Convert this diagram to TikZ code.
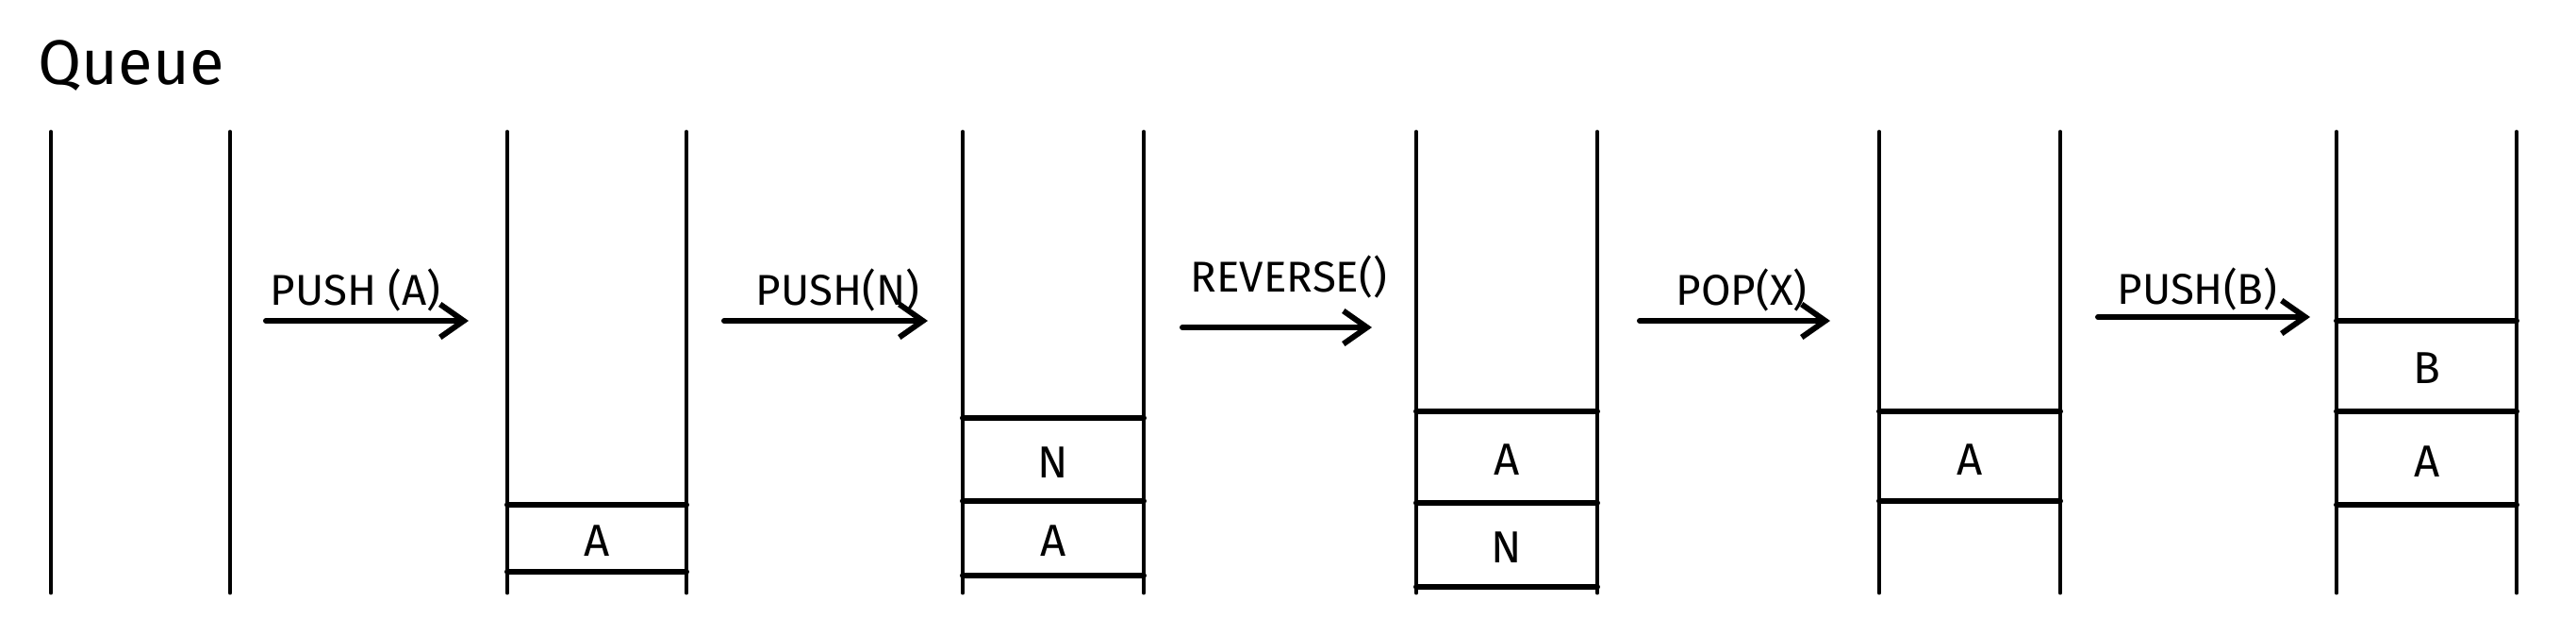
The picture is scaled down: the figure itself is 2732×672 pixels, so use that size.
\documentclass[tikz,border=0pt]{standalone}
\usepackage{fontspec}
\setmainfont{Fira Sans}
\usetikzlibrary{arrows.meta,positioning}

\tikzset{
  wall/.style={line width=1.4pt, line cap=round},
  slot/.style={line width=1.7pt, line cap=round},
  oparrow/.style={->, line width=1.7pt, line cap=round},
  oplabel/.style={font=\fontsize{13}{15}\selectfont, inner sep=1pt},
  cell/.style={font=\fontsize{13.5}{16}\selectfont}
}

\begin{document}
\begin{tikzpicture}[x=0.01cm, y=-0.01cm,
 >={Straight Barb[length=2.5mm,width=3.5mm,line width=1.7pt]}]
\useasboundingbox (0,0) rectangle (2732,672);

\node[anchor=west, font=\fontsize{19}{22}\selectfont, inner sep=0pt] (title) at (40,70) {Queue};

% stack walls
\foreach \l/\r in {54/244, 538/728, 1021/1213, 1502/1694, 1993/2185, 2478/2669} {
  \draw[wall] (\l,140) -- (\l,628);
  \draw[wall] (\r,140) -- (\r,628);
}

% slot dividers
\foreach \l/\r/\y in {538/728/535, 538/728/606,
  1021/1213/443, 1021/1213/531, 1021/1213/610,
  1502/1694/436, 1502/1694/533, 1502/1694/622,
  1993/2185/436, 1993/2185/531,
  2478/2669/340, 2478/2669/436, 2478/2669/535}
  \draw[slot] (\l,\y) -- (\r,\y);

% stored items
\node[cell] (sA2) at (633,573) {A};
\node[cell] (sN3) at (1117,490) {N};
\node[cell] (sA3) at (1117,573) {A};
\node[cell] (sA4) at (1598,487) {A};
\node[cell] (sN4) at (1598,580) {N};
\node[cell] (sA5) at (2089,487) {A};
\node[cell] (sB6) at (2574,390) {B};
\node[cell] (sA6) at (2574,489) {A};

% operations
\coordinate (push1s) at (282,340);  \coordinate (push1e) at (497,340);
\coordinate (push2s) at (768,340);  \coordinate (push2e) at (984,340);
\coordinate (revs)   at (1254,347); \coordinate (reve)   at (1455,347);
\coordinate (pops)   at (1739,340); \coordinate (pope)   at (1941,340);
\coordinate (push3s) at (2225,336); \coordinate (push3e) at (2450,336);

\draw[oparrow] (push1s) -- node[oplabel, above=1pt, xshift=-3.5pt] (lblpushA) {PUSH (A)} (push1e);
\draw[oparrow] (push2s) -- node[oplabel, above=1pt, xshift=3.5pt] (lblpushN) {PUSH(N)} (push2e);
\draw[oparrow] (revs) -- node[oplabel, above=7pt, xshift=3.5pt] (lblrev) {REVERSE()} (reve);
\draw[oparrow] (pops) -- node[oplabel, above=1pt, xshift=2pt] (lblpop) {POP(X)} (pope);
\draw[oparrow] (push3s) -- node[oplabel, above=0pt, xshift=-2pt] (lblpushB) {PUSH(B)} (push3e);
\end{tikzpicture}
\end{document}
